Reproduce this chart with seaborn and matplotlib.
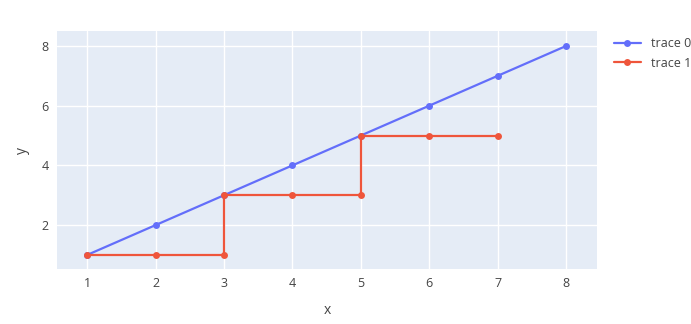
import matplotlib
matplotlib.use("Agg")
import matplotlib.pyplot as plt
import seaborn as sns
import pandas as pd

x0 = [1, 2, 3, 4, 5, 6, 7, 8]
y0 = [1, 2, 3, 4, 5, 6, 7, 8]
x1 = [1, 2, 3, 3, 4, 5, 5, 6, 7]
y1 = [1, 1, 1, 3, 3, 3, 5, 5, 5]
names = ["trace 0", "trace 1"]
colors = ["#636EFA", "#EF553B"]
xticks = [1, 2, 3, 4, 5, 6, 7, 8]
yticks = [2, 4, 6, 8]

sns.set_theme(style="darkgrid")
plt.rcParams['font.family'] = ['Open Sans', 'DejaVu Sans']

fig = plt.figure(figsize=(6.91, 3.24), dpi=100)
ax = fig.add_axes([57/691, 1-269/324, (597-57)/691, (269-31)/324])
ax.set_facecolor("#E5ECF6")

df0 = pd.DataFrame({"x": x0, "y": y0})
df1 = pd.DataFrame({"x": x1, "y": y1})
sns.lineplot(data=df0, x="x", y="y", ax=ax, color=colors[0], marker="o",
             markersize=5, markeredgewidth=0, linewidth=1.6, label=names[0],
             sort=False, estimator=None, errorbar=None)
sns.lineplot(data=df1, x="x", y="y", ax=ax, color=colors[1], marker="o",
             markersize=5, markeredgewidth=0, linewidth=1.6, label=names[1],
             sort=False, estimator=None, errorbar=None)

ax.set_xlim(0.56, 8.45)
ax.set_ylim(0.53, 8.5)
ax.set_xticks(xticks)
ax.set_yticks(yticks)
ax.grid(True, color="white", linewidth=1)
for s in ax.spines.values():
    s.set_visible(False)
ax.tick_params(axis="both", length=0, labelsize=9, colors="#444444", pad=6)
ax.set_xlabel("x", fontsize=10, color="#444444", labelpad=9)
ax.set_ylabel("y", fontsize=10, color="#444444", labelpad=8)

leg = ax.legend(loc="upper left", bbox_to_anchor=(1.01, 1.02), frameon=False,
                fontsize=9, handlelength=2.2, labelcolor="#444444")

fig.savefig("out.png", dpi=100)
